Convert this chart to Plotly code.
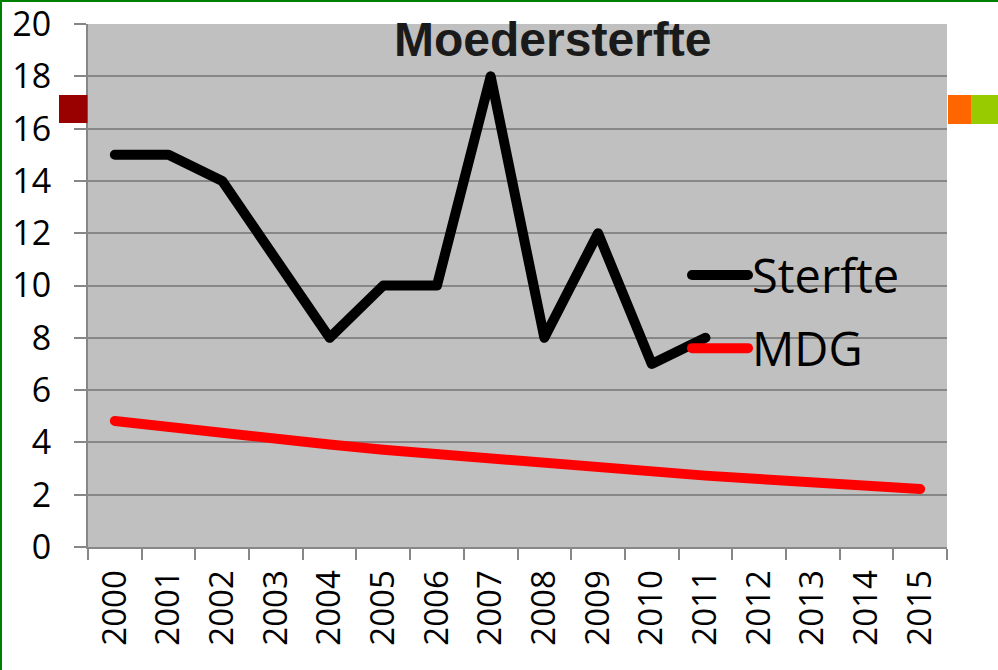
import plotly.graph_objects as go

# data
years = [str(y) for y in range(2000, 2016)]
sterfte = [15, 15, 14, 11, 8, 10, 10, 18, 8, 12, 7, 8]
mdg = [4.82, 4.58, 4.35, 4.13, 3.92, 3.72, 3.54, 3.36, 3.19, 3.03, 2.88, 2.73, 2.6, 2.47, 2.34, 2.22]
y_ticks = list(range(0, 21, 2))

W, H = 998, 670
L, R, T, B = 88, 51, 24, 123
pw, ph = W - L - R, H - T - B

def px(x):
    return (x - L) / pw

def py(y):
    return (H - B - y) / ph

grid = "#878787"
font_txt = "Open Sans, Noto Sans, sans-serif"

fig = go.Figure()
fig.add_trace(go.Scatter(
    x=years[:len(sterfte)], y=sterfte, mode="lines", name="Sterfte",
    line=dict(color="black", width=10), legendgroup="a",
))
fig.add_trace(go.Scatter(
    x=years, y=mdg, mode="lines", name="MDG",
    line=dict(color="#ff0000", width=10), legendgroup="b",
))

shapes = [
    # coloured blocks beside the plot
    dict(type="rect", xref="paper", yref="paper", x0=px(59), x1=px(87.5), y0=py(123), y1=py(95),
         fillcolor="#990000", line_width=0, layer="above"),
    dict(type="rect", xref="paper", yref="paper", x0=px(948), x1=px(971), y0=py(124), y1=py(95),
         fillcolor="#ff6600", line_width=0, layer="above"),
    dict(type="rect", xref="paper", yref="paper", x0=px(971), x1=px(999), y0=py(124), y1=py(95),
         fillcolor="#99cc00", line_width=0, layer="above"),
    # green frame (left and top)
    dict(type="line", xref="paper", yref="paper", x0=px(1), x1=px(1), y0=py(H), y1=py(0),
         line=dict(color="#008000", width=2)),
    dict(type="line", xref="paper", yref="paper", x0=px(0), x1=px(W), y0=py(1), y1=py(1),
         line=dict(color="#008000", width=2)),
]

fig.update_layout(
    width=W, height=H,
    margin=dict(l=L, r=R, t=T, b=B, autoexpand=False),
    paper_bgcolor="white",
    plot_bgcolor="#c0c0c0",
    font=dict(family=font_txt, color="black", size=32),
    shapes=shapes,
    annotations=[dict(
        text="<b>Moedersterfte</b>", xref="paper", yref="paper",
        x=px(552), y=py(40), xanchor="center", yanchor="middle", showarrow=False,
        font=dict(family="Liberation Sans, Arial, sans-serif", size=48, color="#1a1a1a"),
    )],
    legend=dict(
        x=px(682), y=py(238), xanchor="left", yanchor="top",
        bgcolor="rgba(0,0,0,0)", font=dict(size=47, family=font_txt),
        tracegroupgap=9, itemwidth=60,
    ),
    xaxis=dict(
        type="category", categoryorder="array", categoryarray=years,
        range=[-0.5, len(years) - 0.5], automargin=False,
        tickson="boundaries", ticks="outside", ticklen=11, tickwidth=2, tickcolor=grid,
        showline=True, linecolor=grid, linewidth=2,
        showgrid=False, tickangle=-90, ticklabelstandoff=8,
        tickfont=dict(size=33),
    ),
    yaxis=dict(
        range=[0, 20], tickvals=y_ticks, automargin=False, ticklabeloverflow="allow",
        ticks="outside", ticklen=12, tickwidth=2, tickcolor=grid,
        showline=True, linecolor=grid, linewidth=2,
        showgrid=True, gridcolor=grid, gridwidth=2, zeroline=False,
        ticklabelstandoff=16, tickfont=dict(size=34),
    ),
)

# no page margin, rounded line ends, longer legend keys
post = """
document.body.style.margin = '0';
document.querySelectorAll('.scatterlayer path.js-line').forEach(function (p) {
  p.style.strokeLinejoin = 'round'; p.style.strokeLinecap = 'round';
});
document.querySelectorAll('.legend .legendlines path').forEach(function (p) {
  p.setAttribute('d', 'M10,0h56'); p.style.strokeLinecap = 'round';
});
"""

fig.write_html("out.html", post_script=post, config={"displayModeBar": False})
